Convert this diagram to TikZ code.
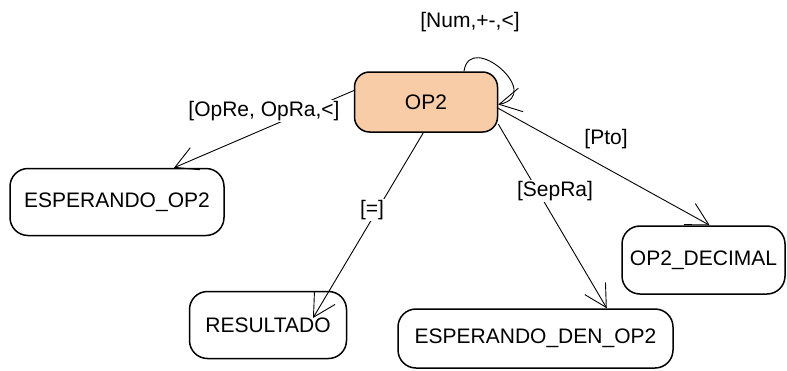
\documentclass[tikz,border=0pt]{standalone}
\usepackage{fontspec}
\setmainfont{Liberation Sans}
\usetikzlibrary{arrows.meta}
\definecolor{peach}{RGB}{249,204,168}
\begin{document}
\begin{tikzpicture}[x=1pt,y=-1pt,
  state/.style={draw=black,line width=1.5pt,rounded corners=18pt,inner sep=0pt,
    font=\fontsize{21}{25}\selectfont},
  lbl/.style={fill=white,inner sep=1.5pt,font=\fontsize{21}{25}\selectfont},
  conn/.style={draw=black,line width=0.9pt,-{Straight Barb[length=22pt,width=24pt,line width=0.9pt]}}]
\useasboundingbox (0,0) rectangle (787,370);
\node[state,fill=peach,rounded corners=15pt,minimum width=143pt,minimum height=60pt] (op2) at (426,102) {OP2};
\node[state,minimum width=214pt,minimum height=67pt] (esp) at (117,202) {ESPERANDO\_OP2};
\node[state,minimum width=157pt,minimum height=67pt] (res) at (268,325) {RESULTADO};
\node[state,minimum width=275pt,minimum height=59pt] (den) at (535.5,338.5) {ESPERANDO\_DEN\_OP2};
\node[state,minimum width=163pt,minimum height=68pt] (dec) at (703.5,260) {OP2\_DECIMAL};
% connectors
\draw[conn] (op2.171) -- (esp.31);
\draw[conn] (op2.-95.5) -- ([shift={(45,-7)}]res.center);
\draw[conn] (op2.-17.7) -- (den.23);
\draw[conn] (op2.-5) -- (dec.80.8);
\draw[conn] (op2.39) .. controls (470,30) and (545,95) .. (op2.-2);
% labels
\node[lbl] (l1) at (264,111) {[OpRe, OpRa,<]};
\node[lbl] (l2) at (372,210) {[=]};
\node[lbl] (l3) at (555,191) {[SepRa]};
\node[lbl] (l4) at (606,139) {[Pto]};
\node[lbl,fill=none] (l5) at (470,22) {[Num,+-,<]};
\end{tikzpicture}
\end{document}
